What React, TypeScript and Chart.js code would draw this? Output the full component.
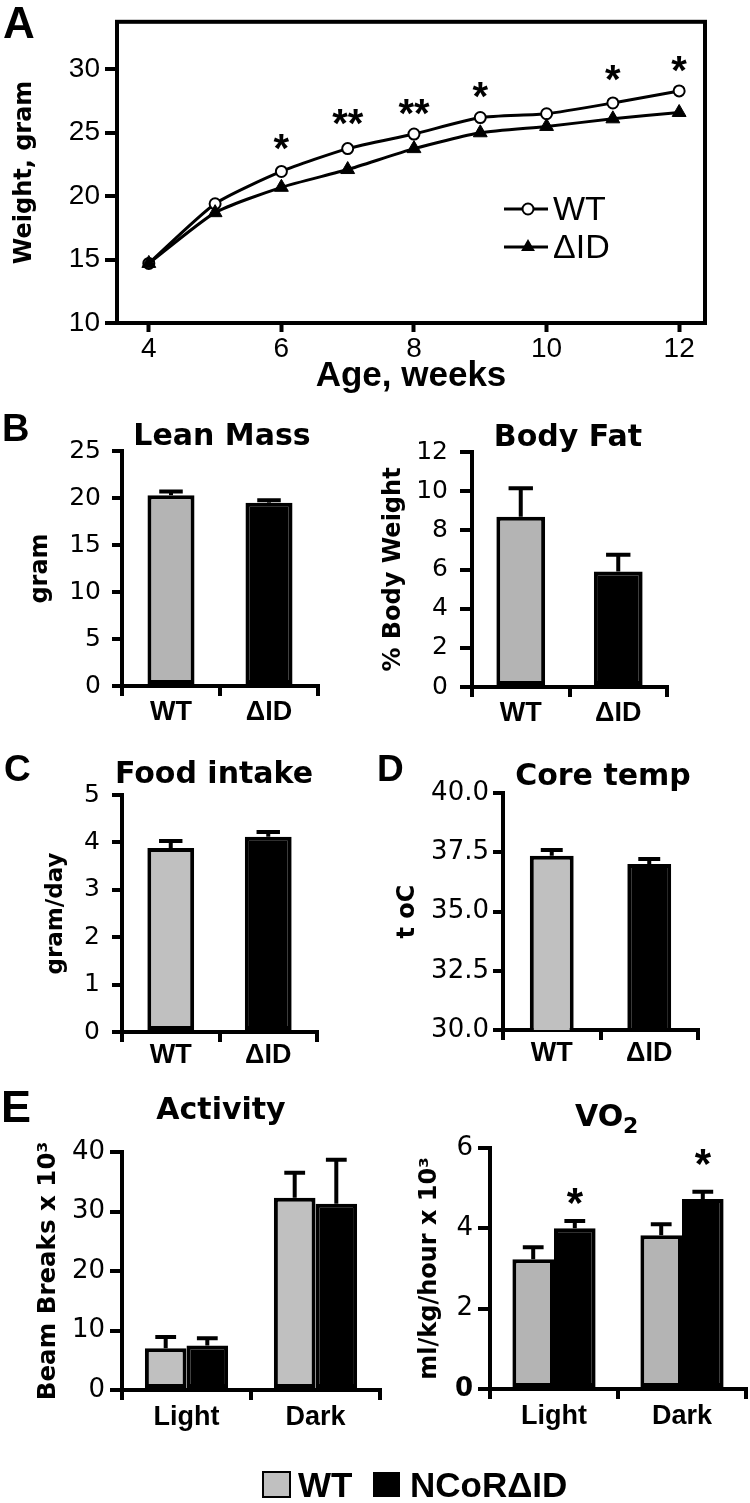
import React, { useEffect, useRef } from "react";
import { Chart, registerables } from "chart.js";

Chart.register(...registerables);

// ---------------- DATA ----------------
const weeks = [4, 5, 6, 7, 8, 9, 10, 11, 12];
const weightWT = [14.7, 19.4, 21.95, 23.75, 24.9, 26.2, 26.5, 27.35, 28.3];
const weightDID = [14.7, 18.7, 20.7, 22.1, 23.75, 25.0, 25.5, 26.1, 26.6];
const weightStars = ["", "", "*", "**", "**", "*", "", "*", "*"];
const weightStarLevels = [null, null, 24.45, 26.4, 27.2, 28.6, null, 29.9, 30.6];
const weightXTicks = [4, 6, 8, 10, 12];
const weightYTicks = [10, 15, 20, 25, 30];

const genotypes = ["WT", "ΔID"];
const leanMass = [20.3, 19.5];
const leanMassErr = [0.4, 0.25];
const leanTicks = [0, 5, 10, 15, 20, 25];

const bodyFat = [8.7, 5.9];
const bodyFatErr = [1.45, 0.85];
const bodyFatTicks = [0, 2, 4, 6, 8, 10, 12];

const foodIntake = [3.88, 4.12];
const foodIntakeErr = [0.15, 0.1];
const foodTicks = [0, 1, 2, 3, 4, 5];

const coreTemp = [37.35, 37.0];
const coreTempErr = [0.25, 0.22];
const coreTicks = [30, 32.5, 35, 37.5, 40];

const phases = ["Light", "Dark"];
const activityWT = [7.0, 32.3];
const activityWTErr = [1.9, 4.2];
const activityDID = [7.5, 31.3];
const activityDIDErr = [1.2, 7.4];
const activityTicks = [0, 10, 20, 30, 40];

const vo2WT = [3.23, 3.83];
const vo2WTErr = [0.3, 0.27];
const vo2DID = [4.0, 4.73];
const vo2DIDErr = [0.18, 0.18];
const vo2DIDStars = ["*", "*"];
const vo2DIDStarLevels = [4.88, 5.85];
const vo2Ticks = [0, 2, 4, 6];

// ---------------- STYLE / LAYOUT ----------------
const ARIAL = '"Liberation Sans", Arial, Helvetica, sans-serif';
const DEJAVU = '"DejaVu Sans", Verdana, sans-serif';
const GRAY_B = "#b4b4b4";
const GRAY_C = "#c0c0c0";
const BLACK = "#000000";

type Rect = { l: number; t: number; w: number; h: number };
type Plot = { l: number; t: number; r: number; b: number };

const CANVAS_A: Rect = { l: 0, t: 0, w: 750, h: 400 };
const PLOT_A: Plot = { l: 117, t: 19, r: 705, b: 323 };
const CANVAS_LEAN: Rect = { l: 0, t: 400, w: 375, h: 330 };
const PLOT_LEAN: Plot = { l: 122, t: 451, r: 318, b: 686 };
const CANVAS_FAT: Rect = { l: 375, t: 400, w: 375, h: 330 };
const PLOT_FAT: Plot = { l: 472, t: 452, r: 667, b: 687 };
const CANVAS_FOOD: Rect = { l: 0, t: 740, w: 375, h: 340 };
const PLOT_FOOD: Plot = { l: 122, t: 795, r: 317, b: 1032 };
const CANVAS_CORE: Rect = { l: 375, t: 740, w: 375, h: 340 };
const PLOT_CORE: Plot = { l: 503, t: 793, r: 698, b: 1030 };
const CANVAS_ACT: Rect = { l: 0, t: 1080, w: 750, h: 423 };
const PLOT_ACT: Plot = { l: 122, t: 1152, r: 380, b: 1390 };
const CANVAS_VO2: Rect = { l: 375, t: 1080, w: 375, h: 360 };
const PLOT_VO2: Plot = { l: 490, t: 1148, r: 746, b: 1389 };

type TextItem = {
  text: string;
  x: number;
  y: number;
  size: number;
  bold?: boolean;
  family?: string;
  align?: CanvasTextAlign;
};

// ---------------- PLUGINS ----------------
function textsPlugin(items: TextItem[], c: Rect) {
  return {
    id: "pageTexts",
    afterDraw(chart: any) {
      const ctx = chart.ctx;
      ctx.save();
      ctx.fillStyle = BLACK;
      ctx.textBaseline = "alphabetic";
      for (const it of items) {
        ctx.font = `${it.bold === false ? "normal" : "bold"} ${it.size}px ${it.family || ARIAL}`;
        ctx.textAlign = it.align || "left";
        ctx.fillText(it.text, it.x - c.l, it.y - c.t);
      }
      ctx.restore();
    },
  };
}

const errorBarPlugin = {
  id: "errorBars",
  afterDatasetsDraw(chart: any) {
    const ctx = chart.ctx;
    const ys = chart.scales.y;
    chart.data.datasets.forEach((ds: any, di: number) => {
      if (!ds.errors) return;
      const meta = chart.getDatasetMeta(di);
      meta.data.forEach((el: any, i: number) => {
        const v = ds.data[i];
        const e = ds.errors[i];
        const top = ys.getPixelForValue(v + e);
        const cap = el.width * 0.5;
        ctx.save();
        ctx.strokeStyle = BLACK;
        ctx.lineWidth = 4;
        ctx.lineCap = "butt";
        ctx.beginPath();
        ctx.moveTo(el.x, el.y);
        ctx.lineTo(el.x, top);
        ctx.moveTo(el.x - cap / 2, top);
        ctx.lineTo(el.x + cap / 2, top);
        ctx.stroke();
        ctx.restore();
      });
    });
  },
};

const starsPlugin = {
  id: "stars",
  afterDatasetsDraw(chart: any) {
    const ctx = chart.ctx;
    const ys = chart.scales.y;
    chart.data.datasets.forEach((ds: any, di: number) => {
      if (!ds.starLabels) return;
      const meta = chart.getDatasetMeta(di);
      meta.data.forEach((el: any, i: number) => {
        const s = ds.starLabels[i];
        const lvl = ds.starLevels[i];
        if (!s || lvl == null) return;
        const center = ys.getPixelForValue(lvl);
        ctx.save();
        ctx.fillStyle = BLACK;
        ctx.font = `bold ${ds.starSize}px ${ARIAL}`;
        ctx.textAlign = "center";
        ctx.textBaseline = "alphabetic";
        ctx.fillText(s, el.x, center + 0.56 * ds.starSize);
        ctx.restore();
      });
    });
  },
};

const boxPlugin = {
  id: "box",
  beforeDatasetsDraw(chart: any) {
    const { left, top, right, bottom } = chart.chartArea;
    const ctx = chart.ctx;
    ctx.save();
    ctx.strokeStyle = BLACK;
    ctx.lineWidth = 4;
    ctx.strokeRect(left, top, right - left, bottom - top);
    ctx.restore();
  },
};

function drawTriangle(ctx: CanvasRenderingContext2D, x: number, y: number, r: number) {
  ctx.beginPath();
  for (let k = 0; k < 3; k++) {
    const a = (k * 2 * Math.PI) / 3;
    const px = x + Math.sin(a) * r;
    const py = y - Math.cos(a) * r;
    if (k === 0) ctx.moveTo(px, py);
    else ctx.lineTo(px, py);
  }
  ctx.closePath();
  ctx.fill();
}

const legendAPlugin = {
  id: "legendA",
  afterDraw(chart: any) {
    const ctx = chart.ctx;
    ctx.save();
    ctx.strokeStyle = BLACK;
    ctx.lineWidth = 3;
    // WT row
    ctx.beginPath();
    ctx.moveTo(504, 209);
    ctx.lineTo(548, 209);
    ctx.stroke();
    ctx.beginPath();
    ctx.arc(528, 209, 5.5, 0, Math.PI * 2);
    ctx.fillStyle = "#ffffff";
    ctx.fill();
    ctx.lineWidth = 2;
    ctx.stroke();
    // ΔID row
    ctx.lineWidth = 3;
    ctx.beginPath();
    ctx.moveTo(504, 247);
    ctx.lineTo(548, 247);
    ctx.stroke();
    ctx.fillStyle = BLACK;
    drawTriangle(ctx, 528, 247, 8);
    ctx.font = `normal 34px ${ARIAL}`;
    ctx.textAlign = "left";
    ctx.textBaseline = "alphabetic";
    ctx.fillText("WT", 553, 220);
    ctx.fillText("ΔID", 553, 258);
    ctx.restore();
  },
};

function bottomLegendPlugin(c: Rect) {
  return {
    id: "bottomLegend",
    afterDraw(chart: any) {
      const ctx = chart.ctx;
      const ds = chart.data.datasets;
      ctx.save();
      ctx.lineWidth = 2;
      ctx.strokeStyle = BLACK;
      ctx.fillStyle = GRAY_C;
      ctx.fillRect(263 - c.l, 1472 - c.t, 27, 25);
      ctx.strokeRect(263 - c.l, 1472 - c.t, 27, 25);
      ctx.fillStyle = BLACK;
      ctx.fillRect(373 - c.l, 1472 - c.t, 27, 25);
      ctx.font = `bold 35px ${ARIAL}`;
      ctx.textBaseline = "alphabetic";
      ctx.textAlign = "left";
      ctx.fillText(ds[0].legendText, 298 - c.l, 1497 - c.t);
      ctx.fillText(ds[1].legendText, 410 - c.l, 1497 - c.t);
      ctx.restore();
    },
  };
}

// ---------------- AXIS HELPERS ----------------
function fixedTicks(values: number[]) {
  return (scale: any) => {
    scale.ticks = values.map((v) => ({ value: v }));
  };
}

function yAxisOptions(o: {
  canvas: Rect;
  plot: Plot;
  min: number;
  max: number;
  ticks: number[];
  fontSize: number;
  tickPad: number;
  tickLen: number;
  title: string;
  titleSize: number;
  titleMiddle: number;
  family?: string;
  border?: boolean;
  boldZero?: boolean;
  decimals?: number;
}) {
  const lh = o.titleSize * 1.2;
  return {
    type: "linear",
    position: "left",
    min: o.min,
    max: o.max,
    afterBuildTicks: fixedTicks(o.ticks),
    afterFit: (s: any) => {
      s.width = o.plot.l - o.canvas.l;
    },
    border: { display: o.border !== false, width: 4, color: BLACK },
    grid: {
      display: true,
      drawOnChartArea: false,
      drawTicks: true,
      tickLength: o.tickLen,
      tickWidth: 4,
      tickColor: BLACK,
      color: BLACK,
      lineWidth: 4,
    },
    ticks: {
      color: BLACK,
      padding: o.tickPad,
      autoSkip: false,
      font: (ctx: any) => ({
        family: o.family || DEJAVU,
        size: o.fontSize,
        weight: o.boldZero && ctx.tick && ctx.tick.value === 0 ? "bold" : "normal",
      }),
      callback: (v: any) => (o.decimals ? Number(v).toFixed(o.decimals) : String(v)),
    },
    title: {
      display: true,
      text: o.title,
      color: BLACK,
      font: { family: DEJAVU, size: o.titleSize, weight: "bold" },
      padding: { top: o.titleMiddle - o.canvas.l - lh / 2, bottom: 0 },
    },
  };
}

function xCategoryOptions(o: { canvas: Rect; plot: Plot; fontSize: number; pad: number; tickLen: number }) {
  return {
    type: "category",
    offset: true,
    afterFit: (s: any) => {
      s.height = o.canvas.t + o.canvas.h - o.plot.b;
    },
    border: { display: true, width: 4, color: BLACK },
    grid: {
      display: true,
      offset: true,
      drawOnChartArea: false,
      drawTicks: true,
      tickLength: o.tickLen,
      tickWidth: 4,
      tickColor: BLACK,
      color: BLACK,
      lineWidth: 4,
    },
    ticks: {
      color: BLACK,
      padding: o.pad,
      maxRotation: 0,
      minRotation: 0,
      autoSkip: false,
      font: { family: ARIAL, size: o.fontSize, weight: "bold" },
    },
  };
}

function baseOptions(c: Rect, p: Plot) {
  return {
    responsive: false,
    maintainAspectRatio: false,
    animation: false,
    devicePixelRatio: 1,
    layout: { padding: { top: p.t - c.t, right: c.l + c.w - p.r, left: 0, bottom: 0 } },
    plugins: { legend: { display: false }, tooltip: { enabled: false }, title: { display: false } },
  };
}

// ---------------- CHART CONFIGS ----------------
function weightConfig() {
  const c = CANVAS_A;
  const p = PLOT_A;
  return {
    type: "line",
    data: {
      datasets: [
        {
          label: "ΔID",
          data: weeks.map((w, i) => ({ x: w, y: weightDID[i] })),
          borderColor: BLACK,
          borderWidth: 3,
          tension: 0.2,
          pointStyle: "triangle",
          pointRadius: 8,
          pointBackgroundColor: BLACK,
          pointBorderColor: BLACK,
          pointBorderWidth: 1,
          fill: false,
        },
        {
          label: "WT",
          data: weeks.map((w, i) => ({ x: w, y: weightWT[i] })),
          borderColor: BLACK,
          borderWidth: 3,
          tension: 0.2,
          pointStyle: "circle",
          pointRadius: 5.5,
          pointBackgroundColor: "#ffffff",
          pointBorderColor: BLACK,
          pointBorderWidth: 2,
          fill: false,
          starLabels: weightStars,
          starLevels: weightStarLevels,
          starSize: 40,
        },
      ],
    },
    options: {
      ...baseOptions(c, p),
      scales: {
        x: {
          type: "linear",
          min: 3.52,
          max: 12.39,
          afterBuildTicks: fixedTicks(weightXTicks),
          afterFit: (s: any) => {
            s.height = c.t + c.h - p.b;
          },
          border: { display: false },
          grid: {
            display: true,
            drawOnChartArea: false,
            drawTicks: true,
            tickLength: 9,
            tickWidth: 4,
            tickColor: BLACK,
          },
          ticks: {
            color: BLACK,
            padding: 0,
            maxRotation: 0,
            autoSkip: false,
            font: { family: ARIAL, size: 28 },
          },
          title: {
            display: true,
            text: "Age, weeks",
            color: BLACK,
            font: { family: ARIAL, size: 35, weight: "bold" },
            padding: { top: 0, bottom: 3 },
          },
        },
        y: yAxisOptions({
          canvas: c,
          plot: p,
          min: 10,
          max: 33.75,
          ticks: weightYTicks,
          fontSize: 28,
          family: ARIAL,
          tickPad: 5,
          tickLen: 12,
          title: "Weight, gram",
          titleSize: 24,
          titleMiddle: 25,
          border: false,
        }),
      },
    },
    plugins: [
      boxPlugin,
      starsPlugin,
      legendAPlugin,
      textsPlugin([{ text: "A", x: 3, y: 38, size: 44 }], c),
    ],
  };
}

function singleBarConfig(o: {
  canvas: Rect;
  plot: Plot;
  values: number[];
  errors: number[];
  gray: string;
  barPct: number;
  min: number;
  max: number;
  ticks: number[];
  tickFont: number;
  tickPad: number;
  tickLen: number;
  title: string;
  titleSize: number;
  titleMiddle: number;
  xPad: number;
  decimals?: number;
  texts: TextItem[];
}) {
  const c = o.canvas;
  const p = o.plot;
  return {
    type: "bar",
    data: {
      labels: genotypes,
      datasets: [
        {
          data: o.values,
          errors: o.errors,
          backgroundColor: [o.gray, BLACK],
          borderColor: BLACK,
          borderWidth: 4,
          borderSkipped: false,
          categoryPercentage: 1,
          barPercentage: o.barPct,
        },
      ],
    },
    options: {
      ...baseOptions(c, p),
      scales: {
        x: xCategoryOptions({ canvas: c, plot: p, fontSize: 27, pad: o.xPad, tickLen: 10 }),
        y: yAxisOptions({
          canvas: c,
          plot: p,
          min: o.min,
          max: o.max,
          ticks: o.ticks,
          fontSize: o.tickFont,
          tickPad: o.tickPad,
          tickLen: o.tickLen,
          title: o.title,
          titleSize: o.titleSize,
          titleMiddle: o.titleMiddle,
          decimals: o.decimals,
        }),
      },
    },
    plugins: [errorBarPlugin, textsPlugin(o.texts, c)],
  };
}

function leanConfig() {
  return singleBarConfig({
    canvas: CANVAS_LEAN,
    plot: PLOT_LEAN,
    values: leanMass,
    errors: leanMassErr,
    gray: GRAY_B,
    barPct: 0.48,
    min: 0,
    max: 25,
    ticks: leanTicks,
    tickFont: 25,
    tickPad: 11,
    tickLen: 10,
    title: "gram",
    titleSize: 24,
    titleMiddle: 41,
    xPad: 0,
    texts: [
      { text: "B", x: 2, y: 441, size: 38 },
      { text: "Lean Mass", x: 222, y: 445, size: 30, family: DEJAVU, align: "center" },
    ],
  });
}

function fatConfig() {
  return singleBarConfig({
    canvas: CANVAS_FAT,
    plot: PLOT_FAT,
    values: bodyFat,
    errors: bodyFatErr,
    gray: GRAY_B,
    barPct: 0.5,
    min: 0,
    max: 12,
    ticks: bodyFatTicks,
    tickFont: 25,
    tickPad: 12,
    tickLen: 12,
    title: "% Body Weight",
    titleSize: 24,
    titleMiddle: 394,
    xPad: 0,
    texts: [{ text: "Body Fat", x: 568, y: 446, size: 30, family: DEJAVU, align: "center" }],
  });
}

function foodConfig() {
  return singleBarConfig({
    canvas: CANVAS_FOOD,
    plot: PLOT_FOOD,
    values: foodIntake,
    errors: foodIntakeErr,
    gray: GRAY_C,
    barPct: 0.48,
    min: 0,
    max: 5,
    ticks: foodTicks,
    tickFont: 25,
    tickPad: 12,
    tickLen: 10,
    title: "gram/day",
    titleSize: 23,
    titleMiddle: 56,
    xPad: -3,
    texts: [
      { text: "C", x: 4, y: 781, size: 37 },
      { text: "Food intake", x: 214, y: 783, size: 30, family: DEJAVU, align: "center" },
    ],
  });
}

function coreConfig() {
  return singleBarConfig({
    canvas: CANVAS_CORE,
    plot: PLOT_CORE,
    values: coreTemp,
    errors: coreTempErr,
    gray: GRAY_C,
    barPct: 0.45,
    min: 30,
    max: 40,
    ticks: coreTicks,
    tickFont: 26,
    tickPad: 4,
    tickLen: 10,
    title: "t oC",
    titleSize: 24,
    titleMiddle: 408,
    xPad: -3,
    decimals: 1,
    texts: [
      { text: "D", x: 377, y: 781, size: 37 },
      { text: "Core temp", x: 603, y: 785, size: 30, family: DEJAVU, align: "center" },
    ],
  });
}

function pairBarConfig(o: {
  canvas: Rect;
  plot: Plot;
  wt: number[];
  wtErr: number[];
  did: number[];
  didErr: number[];
  gray: string;
  catPct: number;
  min: number;
  max: number;
  ticks: number[];
  tickPad: number;
  title: string;
  titleSize: number;
  titleMiddle: number;
  boldZero?: boolean;
  stars?: string[];
  starLevels?: number[];
  texts: TextItem[];
  legend?: boolean;
}) {
  const c = o.canvas;
  const p = o.plot;
  const plugins: any[] = [errorBarPlugin, starsPlugin, textsPlugin(o.texts, c)];
  if (o.legend) plugins.push(bottomLegendPlugin(c));
  return {
    type: "bar",
    data: {
      labels: phases,
      datasets: [
        {
          data: o.wt,
          errors: o.wtErr,
          legendText: "WT",
          backgroundColor: o.gray,
          borderColor: BLACK,
          borderWidth: 4,
          borderSkipped: false,
          categoryPercentage: o.catPct,
          barPercentage: 1,
        },
        {
          data: o.did,
          errors: o.didErr,
          legendText: "NCoRΔID",
          starLabels: o.stars,
          starLevels: o.starLevels,
          starSize: 42,
          backgroundColor: BLACK,
          borderColor: BLACK,
          borderWidth: 4,
          borderSkipped: false,
          categoryPercentage: o.catPct,
          barPercentage: 1,
        },
      ],
    },
    options: {
      ...baseOptions(c, p),
      scales: {
        x: xCategoryOptions({ canvas: c, plot: p, fontSize: 27, pad: 1, tickLen: 10 }),
        y: yAxisOptions({
          canvas: c,
          plot: p,
          min: o.min,
          max: o.max,
          ticks: o.ticks,
          fontSize: 26,
          tickPad: o.tickPad,
          tickLen: 12,
          title: o.title,
          titleSize: o.titleSize,
          titleMiddle: o.titleMiddle,
          boldZero: o.boldZero,
        }),
      },
    },
    plugins,
  };
}

function activityConfig() {
  return pairBarConfig({
    canvas: CANVAS_ACT,
    plot: PLOT_ACT,
    wt: activityWT,
    wtErr: activityWTErr,
    did: activityDID,
    didErr: activityDIDErr,
    gray: GRAY_C,
    catPct: 0.645,
    min: 0,
    max: 40,
    ticks: activityTicks,
    tickPad: 5,
    title: "Beam Breaks x 10³",
    titleSize: 24.5,
    titleMiddle: 49,
    legend: true,
    texts: [
      { text: "E", x: 1, y: 1122, size: 45 },
      { text: "Activity", x: 221, y: 1119, size: 30, family: DEJAVU, align: "center" },
    ],
  });
}

function vo2Config() {
  return pairBarConfig({
    canvas: CANVAS_VO2,
    plot: PLOT_VO2,
    wt: vo2WT,
    wtErr: vo2WTErr,
    did: vo2DID,
    didErr: vo2DIDErr,
    gray: GRAY_B,
    catPct: 0.65,
    min: 0,
    max: 6,
    ticks: vo2Ticks,
    tickPad: 5,
    title: "ml/kg/hour x 10³",
    titleSize: 24,
    titleMiddle: 430,
    boldZero: true,
    stars: vo2DIDStars,
    starLevels: vo2DIDStarLevels,
    texts: [
      { text: "VO", x: 575, y: 1126, size: 30, family: DEJAVU },
      { text: "2", x: 623, y: 1133, size: 22, family: DEJAVU },
    ],
  });
}

// ---------------- COMPONENTS ----------------
function ChartCanvas({ rect, make }: { rect: Rect; make: () => any }) {
  const ref = useRef<HTMLCanvasElement | null>(null);
  useEffect(() => {
    if (!ref.current) return;
    const chart = new Chart(ref.current, make());
    return () => chart.destroy();
  }, []);
  return (
    <canvas
      ref={ref}
      width={rect.w}
      height={rect.h}
      style={{ position: "absolute", left: rect.l, top: rect.t, width: rect.w, height: rect.h }}
    />
  );
}

export default function App() {
  return (
    <div
      style={{
        position: "absolute",
        left: 0,
        top: 0,
        width: 750,
        height: 1503,
        background: "#ffffff",
        overflow: "hidden",
      }}
    >
      <ChartCanvas rect={CANVAS_A} make={weightConfig} />
      <ChartCanvas rect={CANVAS_LEAN} make={leanConfig} />
      <ChartCanvas rect={CANVAS_FAT} make={fatConfig} />
      <ChartCanvas rect={CANVAS_FOOD} make={foodConfig} />
      <ChartCanvas rect={CANVAS_CORE} make={coreConfig} />
      <ChartCanvas rect={CANVAS_ACT} make={activityConfig} />
      <ChartCanvas rect={CANVAS_VO2} make={vo2Config} />
    </div>
  );
}
